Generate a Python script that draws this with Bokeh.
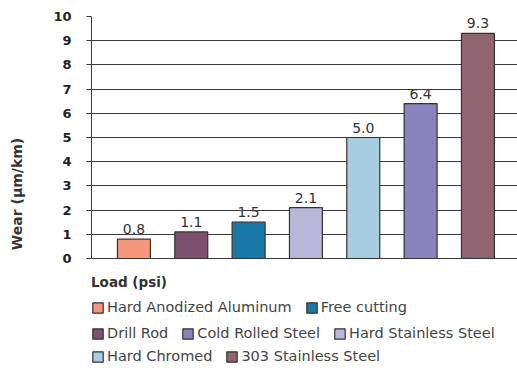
from bokeh.plotting import figure
from bokeh.models import (ColumnDataSource, LabelSet, Legend, LegendItem, Range1d,
                          FixedTicker, LinearAxis)
from bokeh.core.properties import value
from bokeh.embed import file_html
from bokeh.resources import INLINE

materials = ["Hard Anodized Aluminum", "Drill Rod", "Free cutting", "Hard Stainless Steel",
             "Hard Chromed", "Cold Rolled Steel", "303 Stainless Steel"]
wear = [0.8, 1.1, 1.5, 2.1, 5.0, 6.4, 9.3]
colors = ["#F4967A", "#7D5070", "#1878A8", "#BAB6DA", "#A6CEE0", "#8982BE", "#90656E"]
positions = [0, 1, 2, 3, 4, 5, 6]
y_ticks = [0, 1, 2, 3, 4, 5, 6, 7, 8, 9, 10]
y_label = "Wear (\u00b5m/km)"
legend_title = "Load (psi)"
legend_rows = [["Hard Anodized Aluminum", "Free cutting"],
               ["Drill Rod", "Cold Rolled Steel", "Hard Stainless Steel"],
               ["Hard Chromed", "303 Stainless Steel"]]

FONT = "DejaVu Sans"
TXT = "#333333"

# 24.2 px per unit; the frame also holds the legend area under the zero line
FRAME_H = 355
PX_PER_UNIT = 24.2
y_start = 10 - FRAME_H / PX_PER_UNIT

src = ColumnDataSource(dict(x=positions, top=wear, color=colors, name=materials,
                            lab=["%.1f" % v for v in wear]))

p = figure(width=517, height=371, frame_width=426, frame_height=FRAME_H,
           output_backend="svg", toolbar_location=None,
           x_range=Range1d(-0.74, 6.69), y_range=Range1d(y_start, 10),
           x_axis_location=None, min_border_left=91, min_border_top=16,
           min_border_right=0, min_border_bottom=0)
p.outline_line_color = None
p.xgrid.visible = False
p.ygrid.grid_line_color = "#3a3a3a"
p.ygrid.grid_line_width = 1
p.ygrid.grid_line_alpha = 1

r = p.vbar(x="x", top="top", bottom=0, width=0.575, source=src,
           fill_color="color", line_color="#333333", line_width=1.2)

labels = LabelSet(x="x", y="top", text="lab", source=src, text_align="center",
                  text_baseline="bottom", y_offset=5, text_font=value(FONT),
                  text_font_size="14px", text_color=TXT)
p.add_layout(labels)

ax = p.yaxis[0]
ax.ticker = FixedTicker(ticks=y_ticks)
ax.bounds = (0, 10)
ax.major_label_text_font = FONT
ax.major_label_text_font_style = "bold"
ax.major_label_text_font_size = "13px"
ax.major_label_text_color = "#222222"
ax.major_label_standoff = 15
ax.major_tick_out = 5
ax.major_tick_in = 0
ax.minor_tick_out = 0
ax.minor_tick_in = 0
ax.axis_line_color = "#3a3a3a"
ax.major_tick_line_color = "#3a3a3a"

# a tick-less axis that only carries the y label, centred lower as in the original
label_axis = LinearAxis(ticker=FixedTicker(ticks=[]), bounds=(-2.0, 6.4),
                        axis_line_color=None, major_tick_line_color=None,
                        minor_tick_line_color=None, major_tick_out=0, major_tick_in=0,
                        minor_tick_out=0, minor_tick_in=0,
                        axis_label=y_label, axis_label_standoff=26,
                        axis_label_text_font=FONT, axis_label_text_font_style="bold",
                        axis_label_text_font_size="14px", axis_label_text_color=TXT)
p.add_layout(label_axis, "left")

# legend rows: bottom edge of each block, in pixels above the frame bottom
row_bottoms = [56, 30, 7]
for i, row in enumerate(legend_rows):
    items = [LegendItem(label=name, renderers=[r], index=materials.index(name)) for name in row]
    lg = Legend(items=items, orientation="horizontal", location=(0, row_bottoms[i]),
                label_text_font=FONT, label_text_font_size="14.5px", label_text_color="#444444",
                glyph_width=13, glyph_height=13, label_standoff=3, spacing=13,
                padding=0, margin=0, border_line_color=None, background_fill_alpha=0,
                label_height=14, label_text_line_height=1.0)
    if i == 0:
        lg.title = legend_title
        lg.title_text_font = FONT
        lg.title_text_font_style = "bold"
        lg.title_text_font_size = "13.5px"
        lg.title_text_color = TXT
        lg.title_standoff = 9
    p.add_layout(lg, "center")

open("out.html", "w").write(file_html(p, INLINE))
